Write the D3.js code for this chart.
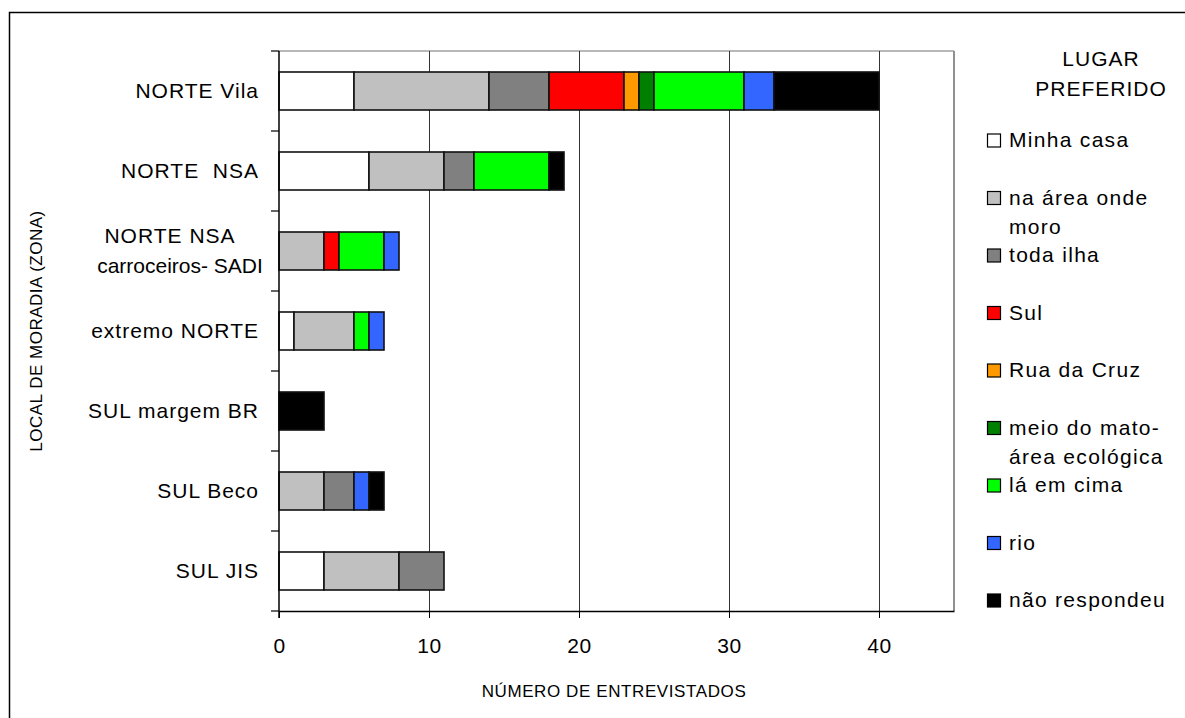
<!DOCTYPE html>
<html>
<head>
<meta charset="utf-8">
<script src="https://cdn.jsdelivr.net/npm/d3@7"></script>
<style>
body{margin:0;background:#fff;}
text{font-family:"Liberation Sans",Arial,sans-serif;fill:#000;white-space:pre;}
</style>
</head>
<body>
<svg id="chart" width="1185" height="718"></svg>
<script>
const categories = ["NORTE Vila","NORTE  NSA","NORTE NSA|carroceiros- SADI","extremo NORTE","SUL margem BR","SUL Beco","SUL JIS"];
const seriesNames = ["Minha casa","na área onde|moro","toda ilha","Sul","Rua da Cruz","meio do mato-|área ecológica","lá em cima","rio","não respondeu"];
const seriesColors = ["#FFFFFF","#C0C0C0","#808080","#FF0000","#FF9900","#008000","#00FF00","#3366FF","#000000"];
const minhaCasa    = [5,6,0,1,0,0,3];
const naArea       = [9,5,3,4,0,3,5];
const todaIlha     = [4,2,0,0,0,2,3];
const sul          = [5,0,1,0,0,0,0];
const ruaDaCruz    = [1,0,0,0,0,0,0];
const meioDoMato   = [1,0,0,0,0,0,0];
const laEmCima     = [6,5,3,1,0,0,0];
const rio          = [2,0,1,1,0,1,0];
const naoRespondeu = [7,1,0,0,3,1,0];
const xTicks = [0,10,20,30,40];
const xMax = 45;

(function(){
const seriesValues = [minhaCasa,naArea,todaIlha,sul,ruaDaCruz,meioDoMato,laEmCima,rio,naoRespondeu];
const keys = seriesNames.map((d,i)=>"s"+i);
const table = categories.map((c,ci)=>{
  const row = {cat:c};
  keys.forEach((k,si)=>row[k]=seriesValues[si][ci]);
  return row;
});

const svg = d3.select("#chart");
svg.append("rect").attr("x",9.5).attr("y",12.5).attr("width",1300).attr("height",800)
  .attr("fill","none").attr("stroke","#000").attr("stroke-width",1.5);

const pL=279, pR=954, pT=51, pB=611;
const x = d3.scaleLinear().domain([0,xMax]).range([pL,pR]);
const y = d3.scaleBand().domain(categories).range([pT,pB]).paddingInner(0.525).paddingOuter(0.2625);

svg.append("line").attr("x1",pL).attr("x2",pR).attr("y1",pT).attr("y2",pT).attr("stroke","#a0a0a0").attr("stroke-width",1.5);
svg.append("line").attr("x1",pR).attr("x2",pR).attr("y1",pT).attr("y2",pB).attr("stroke","#909090").attr("stroke-width",2);

svg.append("g").selectAll("line").data(xTicks.filter(d=>d>0)).join("line")
  .attr("x1",d=>Math.round(x(d))+0.5).attr("x2",d=>Math.round(x(d))+0.5)
  .attr("y1",pT).attr("y2",pB).attr("stroke","#333").attr("stroke-width",1);

const stack = d3.stack().keys(keys)(table);
svg.append("g").selectAll("g").data(stack).join("g")
  .attr("fill",(d,i)=>seriesColors[i])
  .selectAll("rect").data(d=>d.filter(p=>p[1]-p[0]>0)).join("rect")
  .attr("x",d=>x(d[0])).attr("width",d=>x(d[1])-x(d[0]))
  .attr("y",d=>y(d.data.cat)).attr("height",y.bandwidth())
  .attr("stroke","#111").attr("stroke-width",1.6);

const xAxis = d3.axisBottom(x).tickValues(xTicks).tickSize(7).tickPadding(20).tickSizeOuter(0);
const gx = svg.append("g").attr("transform",`translate(0,${pB})`).call(xAxis);
gx.select(".domain").attr("stroke","#000").attr("stroke-width",1.5);
gx.selectAll(".tick line").attr("stroke","#000");
gx.selectAll("text").attr("font-size",21).attr("font-family","Liberation Sans, Arial, sans-serif").attr("fill","#000").attr("letter-spacing","0.5px");

const bounds = d3.range(categories.length+1).map(i=>pT+i*(pB-pT)/categories.length);
svg.append("line").attr("x1",pL).attr("x2",pL).attr("y1",pT).attr("y2",pB+7).attr("stroke","#000").attr("stroke-width",1.5);
svg.append("g").selectAll("line").data(bounds).join("line")
  .attr("x1",pL-8).attr("x2",pL).attr("y1",d=>d).attr("y2",d=>d).attr("stroke","#000").attr("stroke-width",1.2);

const catG = svg.append("g");
categories.forEach(c=>{
  const lines = c.split("|");
  const cy = y(c)+y.bandwidth()/2;
  if(lines.length===1){
    catG.append("text").attr("x",259).attr("y",cy).attr("dy","0.35em")
      .attr("text-anchor","end").attr("font-size",21).attr("letter-spacing","1px").text(lines[0]);
  } else {
    lines.forEach((l,i)=>{
      catG.append("text").attr("x",i===0?170:180).attr("y",cy+(i-(lines.length-1)/2)*30).attr("dy","0.35em")
        .attr("text-anchor","middle").attr("font-size",21).attr("letter-spacing",i===0?"1px":"0px").text(l);
    });
  }
});

svg.append("text").attr("x",614).attr("y",697).attr("text-anchor","middle")
  .attr("font-size",17).attr("letter-spacing","0.6px").text("NÚMERO DE ENTREVISTADOS");
svg.append("text").attr("transform","translate(42,331) rotate(-90)").attr("text-anchor","middle")
  .attr("font-size",17).attr("letter-spacing","0.5px").text("LOCAL DE MORADIA (ZONA)");

const lg = svg.append("g");
lg.append("text").attr("x",1101).attr("y",66).attr("text-anchor","middle").attr("font-size",21).attr("letter-spacing","1px").text("LUGAR");
lg.append("text").attr("x",1101).attr("y",96).attr("text-anchor","middle").attr("font-size",21).attr("letter-spacing","1px").text("PREFERIDO");
seriesNames.forEach((n,i)=>{
  const cy = 140 + i*57.5;
  lg.append("rect").attr("x",987.5).attr("y",cy-6).attr("width",13).attr("height",13)
    .attr("fill",seriesColors[i]).attr("stroke","#000").attr("stroke-width",1.2);
  n.split("|").forEach((l,j)=>{
    lg.append("text").attr("x",1009).attr("y",cy+j*29).attr("dy","0.35em")
      .attr("font-size",21).attr("letter-spacing","1.3px").text(l);
  });
});
})();
</script>
</body>
</html>
